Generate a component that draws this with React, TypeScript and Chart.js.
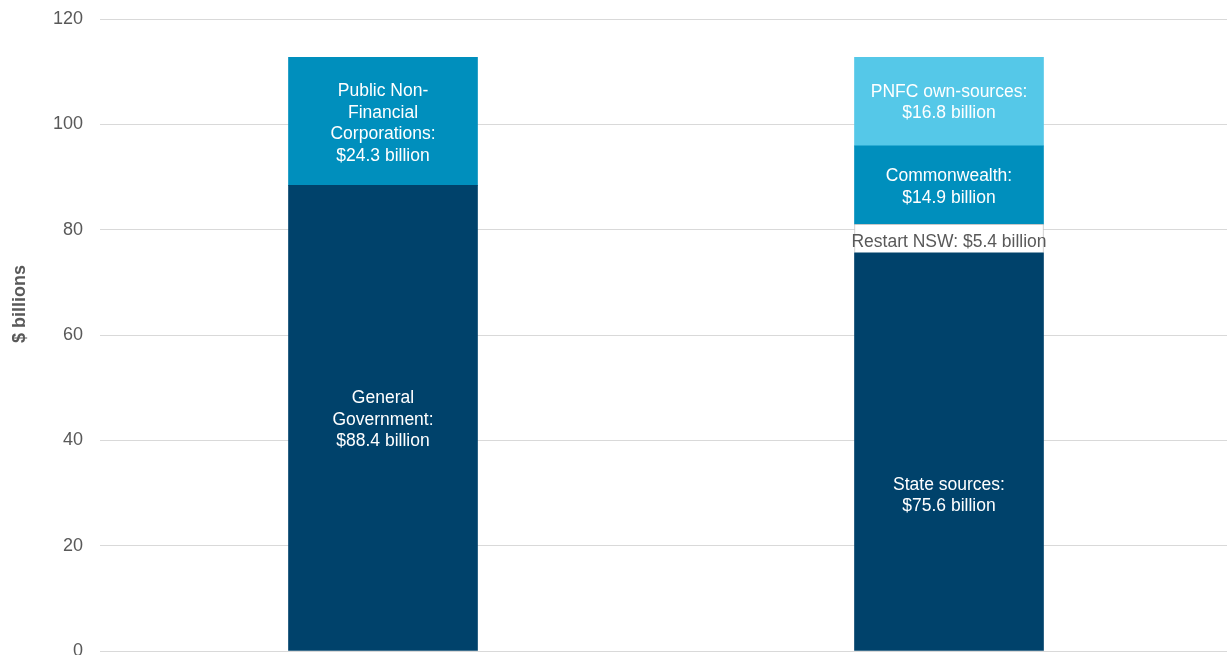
import React, { useEffect, useRef } from "react";
import { Chart, registerables } from "chart.js";

Chart.register(...registerables);

const categories = ["By sector", "By source"];
const generalGovernment = [88.4, null];
const publicNonFinancial = [24.3, null];
const stateSources = [null, 75.6];
const restartNSW = [null, 5.4];
const commonwealth = [null, 14.9];
const pnfcOwnSources = [null, 16.8];
const yTicks = [0, 20, 40, 60, 80, 100, 120];
const yTitle = "$ billions";

const labelGG = ["General", "Government:", "$88.4 billion"];
const labelPNFC = ["Public Non-", "Financial", "Corporations:", "$24.3 billion"];
const labelState = ["State sources:", "$75.6 billion"];
const labelRestart = ["Restart NSW: $5.4 billion"];
const labelCommonwealth = ["Commonwealth:", "$14.9 billion"];
const labelOwn = ["PNFC own-sources:", "$16.8 billion"];

const FONT = "'Liberation Sans', Arial, sans-serif";
const NAVY = "#00426B";
const MID = "#008FBD";
const LIGHT = "#55C8E8";
const GREY = "#595959";

export default function App() {
  const ref = useRef<HTMLCanvasElement | null>(null);
  useEffect(() => {
    document.body.style.overflow = "hidden";
    const canvas = ref.current;
    if (!canvas) return;

    const segLabels: any[] = [
      { lines: labelGG, color: "#ffffff", dy: 2 },
      { lines: labelPNFC, color: "#ffffff", dy: 2 },
      { lines: labelState, color: "#ffffff", dy: 44 },
      { lines: labelRestart, color: GREY, dy: 4 },
      { lines: labelCommonwealth, color: "#ffffff", dy: 2 },
      { lines: labelOwn, color: "#ffffff", dy: 1 },
    ];

    const labelPlugin = {
      id: "segLabels",
      afterDatasetsDraw(chart: any) {
        const ctx = chart.ctx;
        ctx.save();
        ctx.font = `17.5px ${FONT}`;
        ctx.textAlign = "center";
        ctx.textBaseline = "middle";
        chart.data.datasets.forEach((ds: any, di: number) => {
          const meta = chart.getDatasetMeta(di);
          meta.data.forEach((el: any, i: number) => {
            if (ds.data[i] == null) return;
            const cfg = segLabels[di];
            const cy = (el.y + el.base) / 2 + cfg.dy;
            const lh = 21.5;
            const n = cfg.lines.length;
            ctx.fillStyle = cfg.color;
            cfg.lines.forEach((t: string, k: number) => {
              ctx.fillText(t, el.x, cy + (k - (n - 1) / 2) * lh);
            });
          });
        });
        ctx.restore();
      },
    };

    const titlePlugin = {
      id: "yTitle",
      afterDraw(chart: any) {
        const ctx = chart.ctx;
        ctx.save();
        ctx.translate(20, 304);
        ctx.rotate(-Math.PI / 2);
        ctx.font = `bold 18px ${FONT}`;
        ctx.fillStyle = GREY;
        ctx.textAlign = "center";
        ctx.textBaseline = "middle";
        ctx.fillText(yTitle, 0, 0);
        ctx.restore();
      },
    };

    const common = { barThickness: 189, stack: "s" };
    const chart = new Chart(canvas, {
      type: "bar",
      data: {
        labels: categories,
        datasets: [
          { label: "General Government", data: generalGovernment, backgroundColor: NAVY, ...common },
          { label: "Public Non-Financial Corporations", data: publicNonFinancial, backgroundColor: MID, ...common },
          { label: "State sources", data: stateSources, backgroundColor: NAVY, ...common },
          { label: "Restart NSW", data: restartNSW, backgroundColor: "#ffffff", borderColor: "#C8C8C8", borderWidth: 1, ...common },
          { label: "Commonwealth", data: commonwealth, backgroundColor: MID, ...common },
          { label: "PNFC own-sources", data: pnfcOwnSources, backgroundColor: LIGHT, ...common },
        ] as any,
      },
      options: {
        animation: false,
        responsive: false,
        maintainAspectRatio: false,
        layout: { padding: { top: 19, left: 0, right: 0, bottom: 4 } },
        plugins: { legend: { display: false }, tooltip: { enabled: false } },
        scales: {
          x: {
            stacked: true,
            display: false,
          },
          y: {
            stacked: true,
            min: 0,
            max: 120,
            afterFit: (s: any) => {
              s.width = 100;
              s.paddingTop = 0;
              s.paddingBottom = 0;
            },
            afterBuildTicks: (s: any) => { s.ticks = yTicks.map((v) => ({ value: v })); },
            border: { display: false },
            grid: { color: "#D9D9D9", drawTicks: false, lineWidth: 1 },
            ticks: { color: GREY, padding: 17, font: { family: FONT, size: 18 } },
          },
        },
      } as any,
      plugins: [labelPlugin, titlePlugin],
    });
    return () => chart.destroy();
  }, []);

  return (
    <div style={{ position: "fixed", left: 0, top: 0, width: 1232, height: 655 }}>
      <canvas ref={ref} width={1232} height={655} style={{ display: "block" }} />
    </div>
  );
}
